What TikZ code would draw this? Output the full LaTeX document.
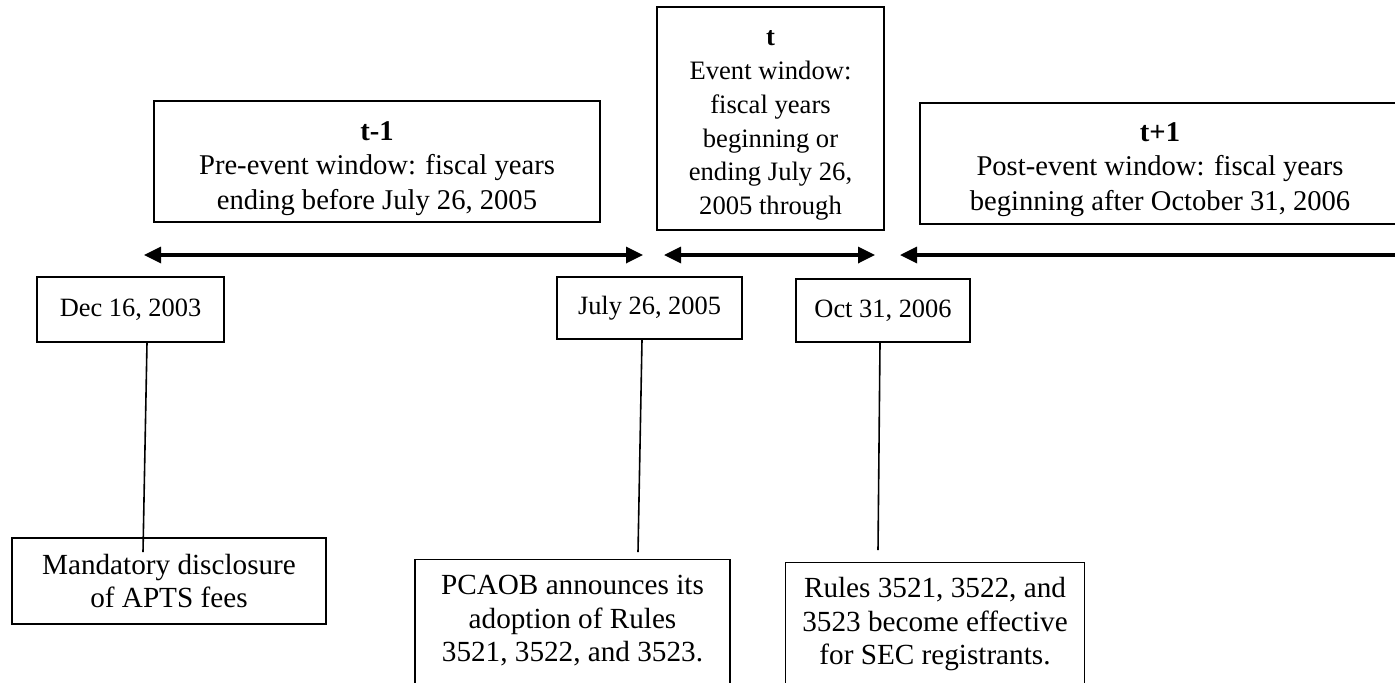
\documentclass[tikz,border=0pt]{standalone}
\usepackage{fontspec}
\setmainfont{Liberation Serif}
\usetikzlibrary{arrows.meta}
\begin{document}
\begin{tikzpicture}[x=0.5pt,y=-0.5pt,
  box/.style={draw=black, line width=0.6pt, inner sep=0pt, align=center},
  topfont/.style={font=\fontsize{14.3}{17.25}\selectfont},
  midfont/.style={font=\fontsize{13.3}{16.9}\selectfont},
  datefont/.style={font=\fontsize{13.2}{16}\selectfont},
  botfont/.style={font=\fontsize{14.6}{16.75}\selectfont},
  tipstyle/.style={line width=1.65pt},
  vline/.style={line width=0.8pt}]
\useasboundingbox (0,0) rectangle (1395,682);
\begin{scope}
\clip (0,0) rectangle (1395,682);
% window boxes
\node[box, topfont, minimum width=223pt, minimum height=60.5pt] (pre) at (377,161.5)
  {\rule{0pt}{16.2pt}\textbf{t-1}\\Pre-event window: fiscal years\\ending before July 26, 2005};
\node[box, midfont, minimum width=113.5pt, minimum height=111.5pt] (evt) at (770.5,118.5)
  {\rule{0pt}{14.6pt}\textbf{t}\\Event window:\\fiscal years\\beginning or\\ending July 26,\\2005 through};
\node[box, topfont, minimum width=240pt, minimum height=60.5pt] (post) at (1160,163.5)
  {\rule{0pt}{15.2pt}\textbf{t+1}\\Post-event window: fiscal years\\beginning after October 31, 2006};
% date boxes
\node[box, datefont, minimum width=93.5pt, minimum height=32.5pt] (dec) at (130.5,309.5) {Dec 16, 2003};
\node[box, datefont, minimum width=92.5pt, minimum height=31pt] (jul) at (649.5,308) {July 26, 2005};
\node[box, datefont, minimum width=87pt, minimum height=31.5pt] (oct) at (883,310.5) {Oct 31, 2006};
% event boxes
\node[box, botfont, minimum width=157pt, minimum height=43pt] (mand) at (169,581)
  {Mandatory disclosure\\of APTS fees};
\node[box, botfont, anchor=north, minimum width=157.5pt, inner ysep=8pt] (pcaob) at (572.5,559)
  {PCAOB announces its\\adoption of Rules\\3521, 3522, and 3523.\rule[-25pt]{0pt}{0pt}};
\node[box, botfont, anchor=north, minimum width=149.5pt, inner ysep=7.5pt] (rules) at (935,562)
  {Rules 3521, 3522, and\\3523 become effective\\for SEC registrants.\rule[-25pt]{0pt}{0pt}};
% arrow ends
\coordinate (a1l) at (144,255);
\coordinate (a1r) at (643,255);
\coordinate (a2l) at (664,255);
\coordinate (a2r) at (875,255);
\coordinate (a3l) at (900,255);
\coordinate (a3r) at (1400,255);
\draw[tipstyle, {Triangle[length=8.5pt,width=8pt]}-{Triangle[length=8.5pt,width=8pt]}] (a1l) -- (a1r);
\draw[tipstyle, {Triangle[length=8.5pt,width=8pt]}-{Triangle[length=8.5pt,width=8pt]}] (a2l) -- (a2r);
\draw[tipstyle, {Triangle[length=8.5pt,width=8pt]}-] (a3l) -- (a3r);
% connectors
\coordinate (e1) at (143,552);
\coordinate (e2) at (638,552);
\coordinate (e3) at (878,550);
\draw[vline] ([xshift=8.25pt]dec.south) -- (e1);
\draw[vline] ([xshift=-3.75pt]jul.south) -- (e2);
\draw[vline] ([xshift=-1.5pt]oct.south) -- (e3);
\end{scope}
\end{tikzpicture}
\end{document}
